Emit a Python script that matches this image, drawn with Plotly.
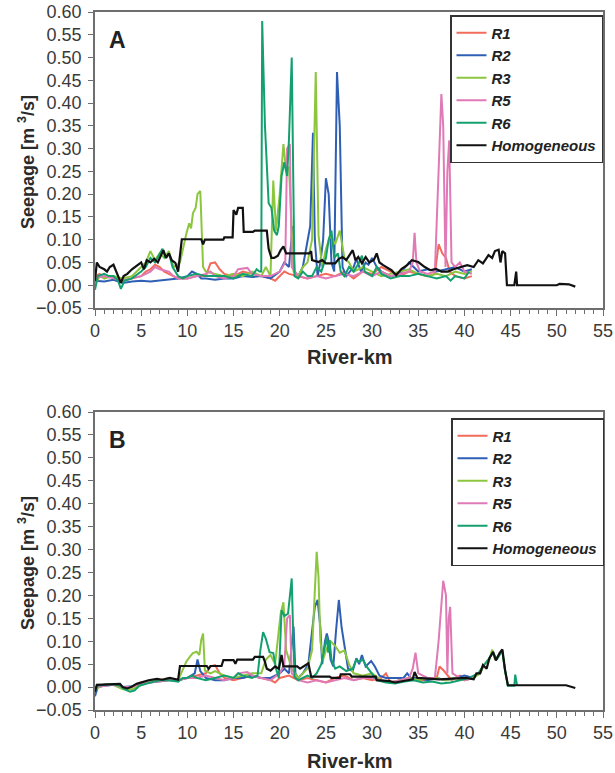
import plotly.graph_objects as go

SERIES_NAMES = ["R1", "R2", "R3", "R5", "R6", "Homogeneous"]
COLORS = ["#f26b5b", "#2f5fb5", "#8cc63f", "#e07ab6", "#14a06e", "#111111"]

X_TICKS = [0, 5, 10, 15, 20, 25, 30, 35, 40, 45, 50, 55]
Y_TICKS = [-0.05, 0.0, 0.05, 0.10, 0.15, 0.20, 0.25, 0.30, 0.35, 0.40, 0.45, 0.50, 0.55, 0.60]

# ---------------- Panel A (km, m3/s) ----------------
A_R1 = [(0,0.02),(0.5,0.025),(1,0.015),(1.5,0.02),(2,0.018),(2.5,0.015),(3,0.01),(3.5,0.012),(4,0.015),(5,0.02),(5.5,0.03),(6,0.035),(6.5,0.045),(7,0.04),(7.5,0.03),(8,0.025),(8.5,0.02),(9,0.015),(10,0.015),(11,0.02),(12,0.02),(12.5,0.048),(13,0.05),(13.5,0.035),(14,0.025),(15,0.02),(16,0.03),(17,0.025),(18,0.02),(19,0.015),(19.5,0.01),(20,0.02),(20.5,0.03),(21,0.025),(22,0.02),(23,0.015),(24,0.02),(25,0.025),(26,0.02),(27,0.03),(28,0.015),(29,0.03),(30,0.025),(31,0.04),(32,0.03),(33,0.02),(34,0.03),(35,0.025),(36,0.02),(36.8,0.025),(37.2,0.09),(37.6,0.07),(38,0.06),(38.4,0.03),(39,0.02),(40,0.015),(40.8,0.02)]
A_R2 = [(0,0.01),(1,0.008),(2,0.012),(3,0.005),(4,0.008),(5,0.01),(6,0.008),(7,0.01),(8,0.012),(9,0.015),(10,0.02),(10.5,0.03),(11,0.025),(11.5,0.015),(12,0.015),(13,0.012),(14,0.015),(15,0.015),(16,0.02),(17,0.018),(18,0.02),(19,0.015),(20,0.03),(20.5,0.05),(21,0.04),(21.4,0.13),(21.6,0.03),(22,0.02),(22.5,0.04),(23,0.1),(23.3,0.13),(23.6,0.335),(23.8,0.1),(24.1,0.02),(24.4,0.05),(24.7,0.1),(25.0,0.235),(25.3,0.2),(25.6,0.05),(25.9,0.03),(26.2,0.468),(26.5,0.35),(26.8,0.04),(27.2,0.02),(27.6,0.03),(28,0.04),(28.3,0.058),(28.8,0.03),(29.3,0.05),(29.6,0.045),(30,0.06),(30.5,0.04),(31,0.03),(32,0.02),(33,0.025),(34,0.05),(35,0.03),(36,0.035),(37,0.03),(38,0.035),(39,0.04),(40,0.03),(40.8,0.035)]
A_R3 = [(0,0.0),(0.5,0.02),(1,0.015),(2,0.02),(3,0.015),(4,0.02),(5,0.04),(5.5,0.05),(6,0.075),(6.5,0.055),(7,0.07),(7.5,0.06),(8,0.075),(8.5,0.04),(9.2,0.05),(9.5,0.08),(9.9,0.114),(10.2,0.136),(10.4,0.125),(10.6,0.158),(10.9,0.17),(11.1,0.2),(11.4,0.207),(11.7,0.04),(12,0.03),(13,0.025),(14,0.02),(15,0.025),(16,0.02),(17,0.03),(18,0.02),(18.5,0.04),(19.0,0.02),(19.3,0.23),(19.6,0.12),(20,0.2),(20.4,0.31),(20.7,0.25),(21,0.26),(21.5,0.03),(22,0.02),(22.5,0.04),(23,0.05),(23.5,0.1),(23.9,0.468),(24.2,0.11),(24.6,0.04),(25,0.08),(25.5,0.11),(26,0.09),(26.5,0.12),(27,0.06),(27.5,0.05),(28,0.03),(29,0.04),(30,0.03),(31,0.02),(32,0.025),(33,0.03),(34,0.035),(35,0.025),(36,0.02),(37,0.025),(38,0.02),(39,0.03),(40,0.025),(40.8,0.03)]
A_R5 = [(0,0.015),(1,0.02),(2,0.015),(3,0.01),(4,0.015),(5,0.02),(6,0.03),(6.5,0.04),(7,0.035),(8,0.03),(8.5,0.02),(9,0.015),(10,0.015),(11,0.02),(12,0.025),(12.5,0.03),(13,0.02),(14,0.015),(15,0.02),(15.5,0.035),(16.5,0.038),(17,0.025),(18,0.02),(19,0.02),(20,0.03),(20.6,0.05),(20.8,0.3),(21.1,0.31),(21.3,0.04),(22,0.02),(23,0.015),(24,0.02),(25,0.015),(26,0.02),(27,0.025),(28,0.02),(29,0.03),(30,0.02),(31,0.03),(32,0.02),(33,0.025),(34,0.03),(34.4,0.05),(34.6,0.115),(34.8,0.05),(35.2,0.03),(36,0.025),(36.8,0.03),(37.2,0.25),(37.5,0.42),(37.7,0.35),(37.95,0.04),(38.15,0.25),(38.35,0.318),(38.6,0.05),(39,0.04),(39.5,0.05),(40,0.03),(40.8,0.025)]
A_R6 = [(0,-0.01),(0.3,0.02),(1,0.025),(1.5,0.02),(2,0.02),(2.5,0.01),(2.8,-0.008),(3.2,0.01),(4,0.015),(5,0.03),(5.5,0.04),(6,0.06),(6.5,0.05),(7,0.07),(7.3,0.08),(7.6,0.06),(8,0.07),(8.4,0.04),(9,0.02),(9.5,0.015),(10,0.02),(11,0.025),(12,0.02),(13,0.02),(14,0.02),(15,0.015),(16,0.025),(17,0.02),(17.5,0.035),(17.8,0.03),(18.0,0.03),(18.1,0.58),(18.4,0.35),(18.8,0.18),(19.1,0.17),(19.4,0.12),(19.7,0.11),(19.9,0.13),(20.2,0.24),(20.5,0.27),(20.8,0.24),(21.0,0.32),(21.3,0.5),(21.6,0.02),(22,0.015),(22.5,0.03),(23,0.02),(23.5,0.02),(24,0.04),(24.5,0.03),(25,0.06),(25.3,0.1),(25.6,0.12),(25.9,0.06),(26.3,0.07),(26.6,0.03),(27,0.02),(27.5,0.04),(28,0.03),(28.6,0.05),(28.9,0.065),(29.2,0.03),(30,0.02),(30.5,0.04),(31,0.025),(32,0.015),(33,0.02),(34,0.02),(35,0.025),(36,0.02),(37,0.015),(38,0.02),(38.5,0.01),(39,0.02),(40,0.015),(40.5,0.03)]
A_HOM = [(0,0.01),(0.2,0.05),(0.5,0.04),(1,0.035),(1.3,0.03),(1.6,0.04),(2.0,0.045),(2.3,0.03),(2.8,0.005),(3.1,0.02),(3.5,0.025),(4.0,0.035),(4.5,0.043),(5.0,0.05),(5.3,0.035),(5.6,0.055),(6.0,0.05),(6.4,0.058),(6.8,0.05),(7.1,0.065),(7.4,0.077),(7.7,0.06),(8.0,0.07),(8.3,0.055),(8.7,0.049),(9.0,0.03),(9.2,0.06),(9.4,0.101),(11.5,0.101),(11.7,0.09),(11.9,0.1),(13.9,0.1),(14.0,0.105),(14.9,0.105),(15.0,0.165),(15.3,0.155),(15.5,0.17),(16.0,0.17),(16.1,0.117),(17.1,0.117),(17.3,0.12),(18.6,0.12),(18.8,0.08),(19.1,0.06),(19.4,0.06),(19.8,0.065),(20.1,0.077),(20.4,0.085),(20.7,0.07),(23.2,0.07),(23.4,0.075),(23.5,0.055),(24.2,0.051),(24.6,0.055),(25.0,0.048),(26.0,0.048),(26.4,0.058),(26.8,0.062),(27.2,0.055),(27.9,0.077),(28.2,0.055),(28.5,0.062),(28.9,0.048),(29.3,0.062),(29.7,0.05),(30.2,0.056),(30.5,0.07),(30.8,0.05),(31.2,0.044),(32.1,0.033),(32.6,0.022),(33.2,0.036),(33.8,0.044),(34.3,0.055),(35.0,0.051),(35.7,0.04),(36.3,0.033),(36.9,0.036),(37.5,0.03),(38.2,0.03),(38.8,0.035),(39.5,0.04),(40.3,0.044),(41.0,0.04),(41.5,0.055),(42.0,0.048),(42.6,0.066),(43.0,0.06),(43.3,0.075),(43.7,0.078),(43.9,0.05),(44.1,0.075),(44.4,0.07),(44.6,0.0),(45.4,0.0),(45.6,0.03),(45.7,0.0),(50,0.0),(50.3,0.003),(51.3,0.002),(52,-0.003)]

# ---------------- Panel B (km, m3/s) ----------------
B_R1 = [(0,0.0),(1,0.005),(2,0.005),(3,0.0),(4,0.0),(5,0.01),(6,0.012),(7,0.015),(8,0.02),(9,0.015),(10,0.02),(11,0.025),(12,0.03),(12.5,0.045),(13,0.048),(13.5,0.03),(14,0.02),(15,0.015),(16,0.02),(17,0.025),(18,0.02),(19,0.015),(19.5,0.01),(20,0.02),(21,0.025),(22,0.015),(23,0.02),(24,0.015),(25,0.01),(26,0.02),(27,0.025),(28,0.015),(29,0.02),(30,0.015),(31,0.02),(31.5,0.03),(32,0.01),(33,0.015),(34,0.02),(35,0.015),(36,0.015),(37,0.02),(37.3,0.045),(37.8,0.035),(38.2,0.025),(38.6,0.015),(39,0.02),(39.5,0.025),(40,0.015),(41,0.02)]
B_R2 = [(0,-0.02),(0.3,0.0),(1,0.003),(2,0.005),(3,0.0),(4,0.002),(5,0.008),(6,0.01),(7,0.012),(8,0.015),(9,0.015),(10,0.02),(10.8,0.03),(11.1,0.06),(11.4,0.035),(12,0.02),(13,0.015),(14,0.015),(15,0.02),(16,0.02),(17,0.025),(18,0.02),(19,0.02),(20,0.03),(20.5,0.04),(21,0.03),(21.5,0.132),(21.7,0.03),(22,0.02),(22.5,0.03),(23.1,0.05),(23.4,0.1),(23.8,0.175),(24.1,0.19),(24.4,0.13),(24.6,0.05),(24.9,0.1),(25.1,0.117),(25.3,0.1),(25.5,0.06),(25.8,0.045),(26.1,0.124),(26.4,0.19),(26.7,0.13),(27.1,0.081),(27.4,0.04),(27.9,0.035),(28.3,0.063),(28.6,0.05),(28.9,0.07),(29.3,0.045),(29.9,0.057),(30.3,0.045),(30.8,0.025),(31.5,0.02),(32.5,0.02),(33.4,0.02),(33.8,0.03),(34.2,0.02),(35,0.02),(36,0.015),(37,0.02),(38,0.015),(39,0.02),(40,0.025),(41,0.02)]
B_R3 = [(0,-0.005),(1,0.005),(2,0.005),(3,-0.005),(4,-0.005),(5,0.005),(6,0.012),(7,0.015),(8,0.018),(9,0.015),(9.5,0.038),(9.9,0.056),(10.3,0.067),(10.6,0.074),(11.0,0.077),(11.3,0.07),(11.5,0.103),(11.7,0.117),(11.9,0.036),(12.5,0.03),(13,0.035),(14,0.025),(15,0.02),(16,0.025),(17,0.03),(18,0.03),(18.5,0.06),(19,0.07),(19.5,0.05),(20.1,0.16),(20.4,0.185),(20.7,0.08),(21,0.06),(21.3,0.04),(22,0.02),(22.5,0.03),(23,0.04),(23.5,0.08),(23.8,0.2),(24.0,0.295),(24.2,0.24),(24.4,0.1),(24.7,0.06),(25,0.08),(25.5,0.1),(26,0.09),(26.5,0.075),(27,0.08),(27.5,0.05),(28,0.03),(29,0.025),(30,0.03),(31,0.015),(32,0.01),(33,0.015),(34,0.02),(35,0.015),(36,0.02),(37,0.02),(38,0.015),(39,0.02),(40,0.015),(41,0.02),(41.7,0.03),(42.2,0.05),(42.7,0.06),(43,0.082),(43.3,0.06),(43.8,0.072),(44.1,0.078),(44.4,0.035),(44.7,0.005)]
B_R5 = [(0,0.0),(1,0.003),(2,0.005),(3,0.0),(4,0.0),(5,0.008),(6,0.01),(7,0.012),(8,0.015),(9,0.015),(10,0.02),(11,0.02),(12,0.025),(13,0.02),(14,0.015),(15,0.02),(15.5,0.03),(16.5,0.033),(17,0.025),(18,0.02),(19,0.015),(20,0.03),(20.5,0.05),(20.8,0.15),(21.1,0.157),(21.3,0.03),(22,0.015),(23,0.01),(24,0.015),(25,0.01),(26,0.015),(27,0.02),(28,0.015),(29,0.02),(30,0.02),(31,0.015),(32,0.01),(33,0.015),(34,0.02),(34.4,0.04),(34.7,0.075),(35,0.03),(36,0.02),(36.8,0.02),(37.2,0.1),(37.7,0.232),(38.0,0.2),(38.15,0.03),(38.3,0.15),(38.45,0.175),(38.7,0.03),(39.5,0.02),(40,0.015),(41,0.02)]
B_R6 = [(0,-0.01),(0.3,0.003),(1,0.005),(2,0.006),(2.7,0.003),(3.2,-0.005),(3.8,-0.01),(4.3,-0.007),(4.8,0.003),(5.5,0.008),(6,0.01),(7,0.015),(8,0.015),(9,0.012),(9.5,0.02),(10,0.02),(10.5,0.025),(11,0.02),(12,0.015),(13,0.02),(14,0.025),(15,0.02),(15.5,0.03),(16,0.025),(17,0.02),(17.6,0.025),(17.9,0.08),(18.2,0.12),(18.5,0.105),(18.9,0.076),(19.3,0.074),(19.6,0.04),(19.9,0.02),(20.2,0.168),(20.5,0.155),(20.9,0.16),(21.1,0.2),(21.3,0.237),(21.45,0.12),(21.6,0.022),(22,0.015),(22.5,0.02),(23,0.025),(23.5,0.02),(24,0.03),(24.5,0.05),(24.9,0.088),(25.1,0.11),(25.25,0.075),(25.4,0.102),(25.6,0.06),(26,0.04),(26.5,0.045),(27.2,0.035),(27.9,0.04),(28.3,0.06),(28.6,0.055),(29,0.06),(29.4,0.045),(30,0.03),(30.5,0.015),(31.5,0.01),(32.5,0.008),(33.5,0.012),(34.5,0.015),(35.5,0.01),(36.5,0.012),(37.5,0.008),(38.5,0.01),(39.5,0.015),(40.5,0.02),(41.5,0.03),(42,0.045),(42.7,0.063),(43.1,0.075),(43.5,0.06),(44.1,0.08),(44.4,0.035),(44.7,0.003),(45.4,0.003),(45.5,0.027),(45.7,0.003)]
B_HOM = [(0,-0.01),(0.2,0.005),(2.7,0.007),(3.0,0.0),(3.5,-0.003),(3.9,0.0),(4.5,0.007),(5.2,0.011),(5.8,0.015),(6.7,0.018),(7.3,0.016),(8.1,0.02),(8.6,0.018),(9.0,0.016),(9.2,0.046),(12.1,0.046),(12.3,0.04),(12.5,0.046),(13.7,0.046),(13.9,0.059),(15.0,0.059),(15.2,0.051),(15.4,0.06),(17.1,0.06),(17.3,0.066),(18.2,0.066),(18.4,0.055),(18.6,0.04),(19.0,0.036),(19.5,0.045),(19.9,0.04),(20.2,0.07),(20.4,0.045),(21.9,0.045),(22.2,0.04),(22.6,0.045),(23.1,0.052),(23.4,0.023),(25.4,0.023),(25.6,0.02),(26.5,0.02),(26.6,0.028),(27.6,0.028),(27.8,0.023),(30.4,0.023),(30.5,0.015),(31.9,0.013),(32.5,0.01),(33.2,0.012),(33.7,0.015),(34.4,0.017),(34.6,0.033),(34.9,0.02),(37.3,0.017),(38.5,0.018),(40.2,0.02),(41.0,0.017),(41.3,0.03),(41.7,0.03),(42.0,0.048),(42.4,0.04),(42.7,0.063),(43.1,0.077),(43.4,0.058),(43.8,0.074),(44.1,0.082),(44.4,0.037),(44.7,0.004),(51.0,0.004),(52.0,-0.002)]

PANEL_A = [A_R1, A_R2, A_R3, A_R5, A_R6, A_HOM]
PANEL_B = [B_R1, B_R2, B_R3, B_R5, B_R6, B_HOM]

W, H = 615, 773
X0, X1 = 95, 603
TOP_A, BOT_A = 12, 308
TOP_B, BOT_B = 412, 710

def fy(py):
    return (H - py) / H

def fx(px):
    return px / W

fig = go.Figure()

for panel, (xa, ya, leg) in ((PANEL_A, ("x", "y", "legend")), (PANEL_B, ("x2", "y2", "legend2"))):
    for name, color, data in zip(SERIES_NAMES, COLORS, panel):
        xs = [p[0] for p in data]
        ys = [p[1] for p in data]
        fig.add_trace(go.Scatter(
            x=xs, y=ys, mode="lines", name=name,
            line=dict(color=color, width=2 if name != "Homogeneous" else 2.2),
            xaxis=xa, yaxis=ya, legend=leg,
        ))

tick_font = dict(family="Liberation Sans, Arial, sans-serif", size=18, color="#3a3a3a")
axis_line = dict(showline=True, linecolor="#6e6e6e", linewidth=1.5, mirror=True)

def xaxis_cfg(anchor):
    return dict(
        range=[0, 55], tickvals=X_TICKS, ticks="outside", ticklen=6, tickwidth=1.3,
        tickcolor="#6e6e6e", tickfont=tick_font, showgrid=False, zeroline=False,
        minor=dict(dtick=1, ticks="outside", ticklen=4, tickwidth=1, tickcolor="#6e6e6e", showgrid=False),
        ticklabelstandoff=0, anchor=anchor, domain=[fx(X0), fx(X1)], automargin=False, **axis_line,
    )

def yaxis_cfg(anchor, top, bot):
    return dict(
        range=[-0.05, 0.60], tickvals=Y_TICKS, tickformat=".2f", ticks="outside", ticklen=5,
        tickwidth=1.3, tickcolor="#6e6e6e", tickfont=tick_font, showgrid=False, zeroline=False,
        ticklabelstandoff=3, anchor=anchor, domain=[fy(bot), fy(top)], automargin=False, **axis_line,
    )

legend_common = dict(
    xanchor="left", yanchor="top", bgcolor="white", bordercolor="#333333", borderwidth=1.5,
    font=dict(family="Liberation Sans, Arial, sans-serif", size=15, color="#222222", style="italic", weight="bold"),
    tracegroupgap=0, itemwidth=30,
)

fig.update_layout(
    width=W, height=H, margin=dict(l=0, r=0, t=0, b=0),
    paper_bgcolor="white", plot_bgcolor="white", showlegend=True,
    xaxis=xaxis_cfg("y"), yaxis=yaxis_cfg("x", TOP_A, BOT_A),
    xaxis2=xaxis_cfg("y2"), yaxis2=yaxis_cfg("x2", TOP_B, BOT_B),
    legend=dict(x=fx(450), y=fy(15), **legend_common),
    legend2=dict(x=fx(451), y=fy(418), **legend_common),
)

title_font = dict(family="Liberation Sans, Arial, sans-serif", size=18, color="#2a2a2a", weight="bold")
annotations = []
for label, top, bot, xt_y in (("A", TOP_A, BOT_A, 357), ("B", TOP_B, BOT_B, 761)):
    annotations.append(dict(text="<b>%s</b>" % label, x=fx(117), y=fy(top + 28), xref="paper", yref="paper",
                            showarrow=False, xanchor="center", yanchor="middle",
                            font=dict(family="Liberation Sans, Arial, sans-serif", size=23, color="#222222")))
    annotations.append(dict(text="<b>Seepage [m <sup>3</sup>/s]</b>", x=fx(26), y=fy((top + bot) / 2 + 2),
                            xref="paper", yref="paper", showarrow=False, textangle=-90,
                            xanchor="center", yanchor="middle", font=title_font))
    annotations.append(dict(text="<b>River-km</b>", x=fx(350), y=fy(xt_y), xref="paper", yref="paper",
                            showarrow=False, xanchor="center", yanchor="middle",
                            font=dict(family="Liberation Sans, Arial, sans-serif", size=20, color="#2a2a2a")))
fig.update_layout(annotations=annotations)

fig.write_html("out.html")
